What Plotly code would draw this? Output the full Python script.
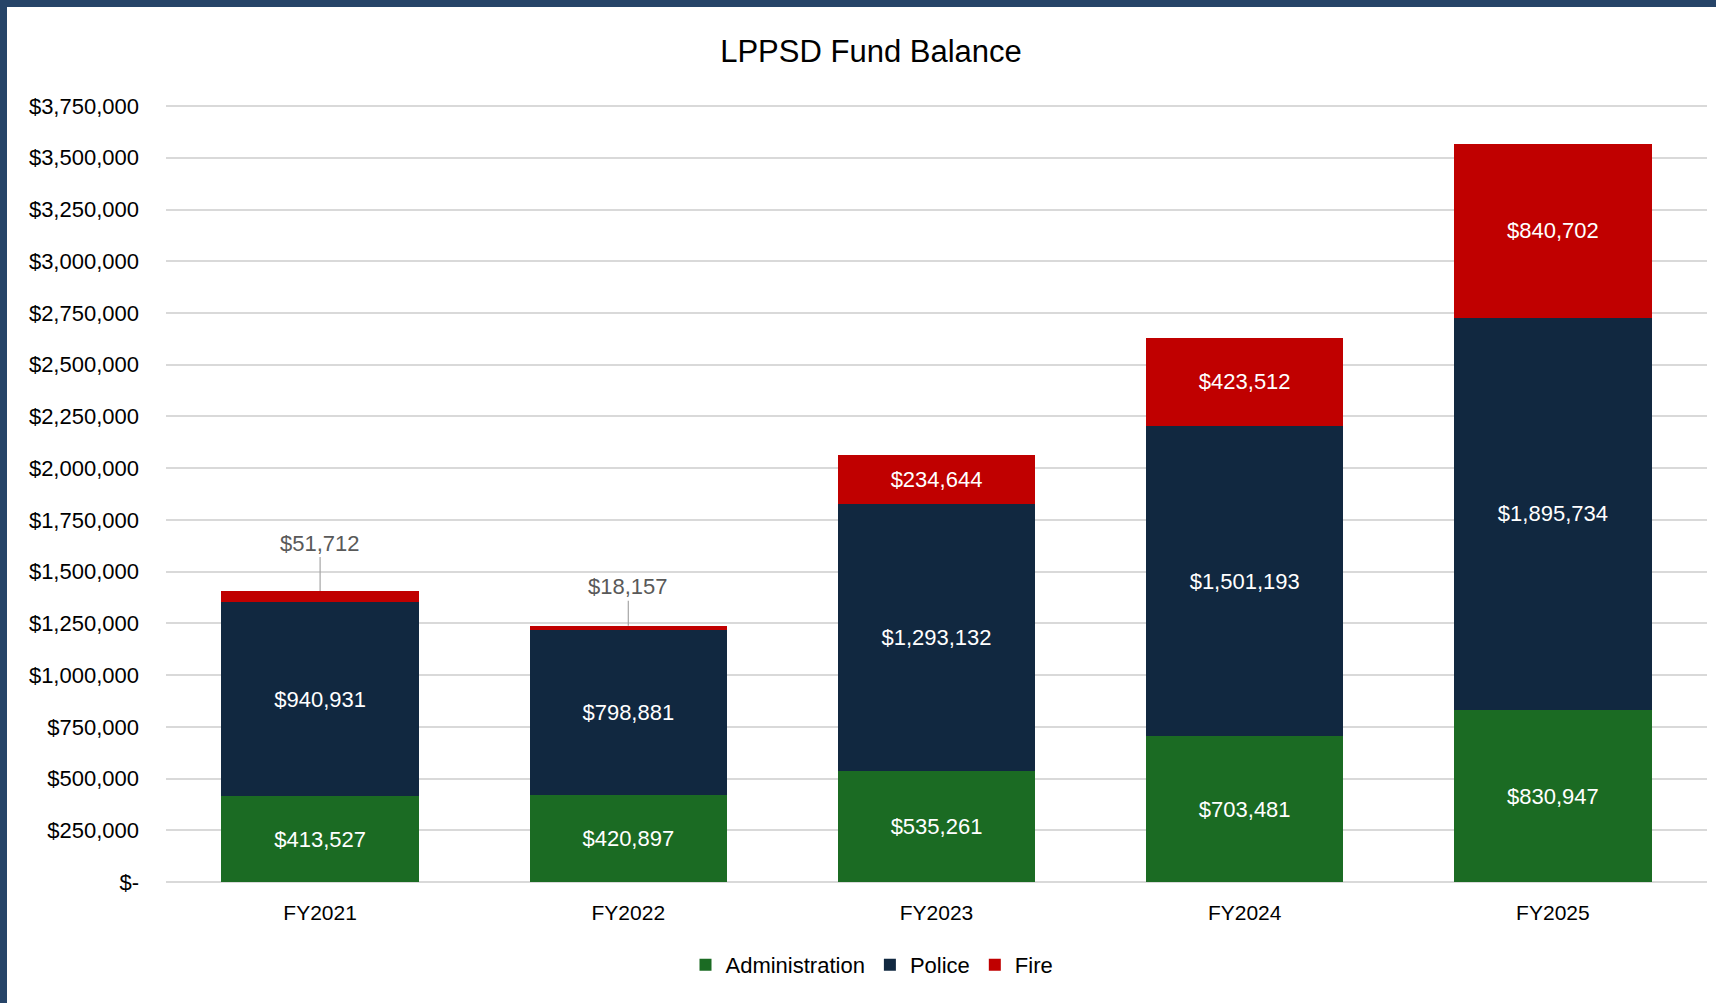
import plotly.graph_objects as go

years = ["FY2021", "FY2022", "FY2023", "FY2024", "FY2025"]
administration = [413527, 420897, 535261, 703481, 830947]
police = [940931, 798881, 1293132, 1501193, 1895734]
fire = [51712, 18157, 234644, 423512, 840702]

# fire values too small to label inside the bar get a callout instead
callout_years = ["FY2021", "FY2022"]

y_ticks = [0, 250000, 500000, 750000, 1000000, 1250000, 1500000, 1750000,
           2000000, 2250000, 2500000, 2750000, 3000000, 3250000, 3500000, 3750000]
y_tick_text = ["$-"] + [f"${v:,}" for v in y_ticks[1:]]

COLORS = {"Administration": "#1B6B23", "Police": "#112840", "Fire": "#C00000"}
FONT = "Liberation Sans, Arial, sans-serif"

W, H = 1716, 1003
L, R, T, B = 166, 9, 105, 121
plot_w = W - L - R
plot_h = H - T - B
Y_MAX = 3755000  # a hair above the top tick so its gridline still shows
CALLOUT_OFFSET = {"FY2021": -48, "FY2022": -39}


def money(v):
    return f"${v:,}"


fig = go.Figure()
for name, vals in [("Administration", administration), ("Police", police), ("Fire", fire)]:
    labels = [money(v) if not (name == "Fire" and y in callout_years) else ""
              for y, v in zip(years, vals)]
    fig.add_trace(go.Bar(
        x=years, y=vals, name=name,
        marker=dict(color=COLORS[name], line=dict(width=0)),
        text=labels, textposition="inside", insidetextanchor="middle",
        textfont=dict(color="white", size=22, family=FONT),
        constraintext="none", hoverinfo="skip",
    ))

for y in callout_years:
    i = years.index(y)
    top = administration[i] + police[i] + fire[i]
    fig.add_annotation(
        x=y, y=top, xref="x", yref="y", text=money(fire[i]),
        showarrow=True, arrowhead=0, arrowwidth=1.2, arrowcolor="#A6A6A6",
        ax=0, ay=CALLOUT_OFFSET[y], standoff=0,
        font=dict(size=22, color="#595959", family=FONT),
    )

# frame on top and left edges
px = lambda p: (p - L) / plot_w
py = lambda p: (H - B - p) / plot_h
fig.add_shape(type="rect", xref="paper", yref="paper", x0=px(-2), x1=px(7), y0=py(H + 2), y1=py(-2),
              fillcolor="#264468", line=dict(width=0), layer="above")
fig.add_shape(type="rect", xref="paper", yref="paper", x0=px(-2), x1=px(W + 2), y0=py(7), y1=py(-2),
              fillcolor="#264468", line=dict(width=0), layer="above")

fig.update_layout(
    barmode="stack",
    bargap=0.36,
    width=W, height=H,
    margin=dict(l=L, r=R, t=T, b=B),
    paper_bgcolor="white", plot_bgcolor="white",
    font=dict(family=FONT, color="#000000"),
    title=dict(text="LPPSD Fund Balance", x=px(871), xref="paper", xanchor="center",
               y=1 - 51 / H, yanchor="middle", font=dict(size=31, color="#000000", family=FONT)),
    legend=dict(orientation="h", x=px(872), xanchor="center", y=py(965), yanchor="middle",
                font=dict(size=22, family=FONT), traceorder="normal", itemclick=False),
    showlegend=True,
)
fig.update_xaxes(showgrid=False, showline=False, ticks="", tickfont=dict(size=21, family=FONT),
                 ticklabelstandoff=16)
fig.update_yaxes(range=[0, Y_MAX], tickvals=y_ticks, ticktext=y_tick_text,
                 showgrid=True, gridcolor="#D9D9D9", gridwidth=1.5,
                 zeroline=True, zerolinecolor="#D9D9D9", zerolinewidth=1.5,
                 tickfont=dict(size=22, family=FONT), ticklabelstandoff=26)

fig.write_html("out.html", config={"displayModeBar": False},
               post_script="document.body.style.margin='0';document.body.style.overflow='hidden';")
